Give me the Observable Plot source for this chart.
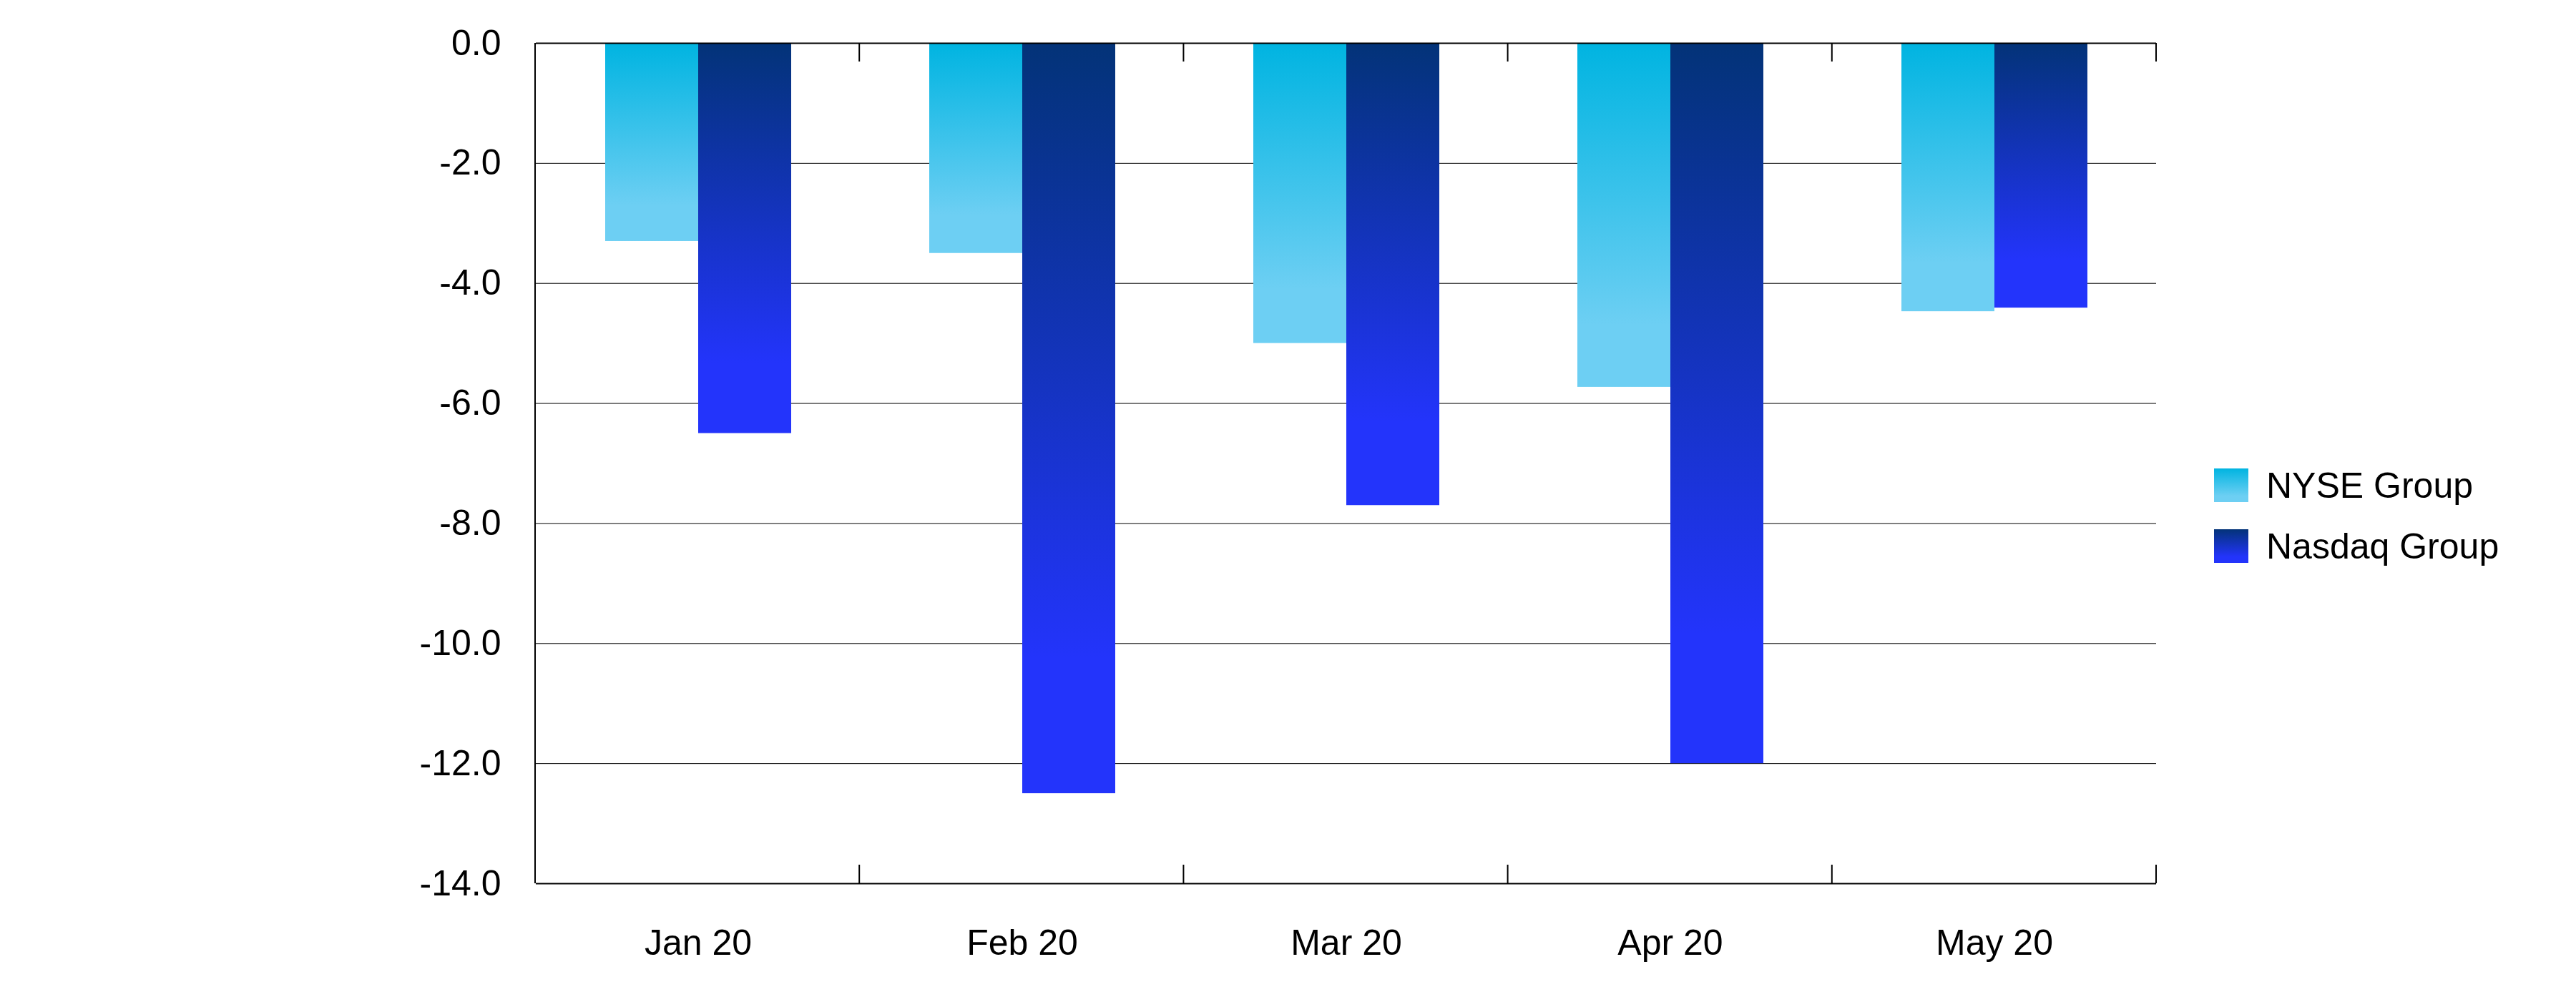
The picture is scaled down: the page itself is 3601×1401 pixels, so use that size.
<!DOCTYPE html>
<html>
<head>
<meta charset="utf-8">
<script src="https://cdn.jsdelivr.net/npm/d3@7"></script>
<script src="https://cdn.jsdelivr.net/npm/@observablehq/plot@0.6"></script>
<style>
  html, body { margin: 0; padding: 0; background: #fff; overflow: hidden; }
  #wrap { position: relative; width: 3601px; height: 1401px; }
  #legend { position: absolute; left: 3095px; top: 655px; font-family: 'Liberation Sans', Arial, sans-serif; font-size: 50px; color: #000; }
  .row { display: flex; align-items: center; height: 47px; margin-bottom: 38px; white-space: nowrap; }
  .sw { width: 48px; height: 47px; margin-right: 25px; flex: none; }
</style>
</head>
<body>
<div id="wrap"></div>
<script>
const months = ["Jan 20", "Feb 20", "Mar 20", "Apr 20", "May 20"];
const series = ["NYSE Group", "Nasdaq Group"];
const nyse = [-3.3, -3.5, -5.0, -5.73, -4.47];
const nasdaq = [-6.5, -12.5, -7.7, -12.0, -4.41];
const yTicks = [0, -2, -4, -6, -8, -10, -12, -14];
const gradients = {
  "NYSE Group": ["#00b4e1", "#6dcff3"],
  "Nasdaq Group": ["#033378", "#2334fb"]
};

const rows = months.flatMap((m, i) => [
  {month: m, series: series[0], value: nyse[i]},
  {month: m, series: series[1], value: nasdaq[i]}
]);

const gradId = s => s === series[0] ? "gradNyse" : "gradNasdaq";

const plot = Plot.plot({
  width: 3601,
  height: 1401,
  marginLeft: 748,
  marginRight: 587,
  marginTop: 60,
  marginBottom: 166,
  style: {fontFamily: "'Liberation Sans', Arial, sans-serif", fontSize: "50px", color: "#000", background: "#fff", overflow: "visible"},
  facet: {data: rows, x: "month"},
  fx: {domain: months, padding: 0, axis: "bottom", label: null, tickSize: 0, tickPadding: 64},
  x: {domain: series, paddingInner: 0, paddingOuter: 0.74, axis: null},
  y: {domain: [-14, 0], ticks: yTicks, tickFormat: d => d.toFixed(1), tickSize: 0, tickPadding: 49, label: null},
  marks: [
    Plot.ruleY(yTicks.filter(t => t !== 0 && t !== -14), {stroke: "#000", strokeWidth: 1}),
    Plot.barY(rows, {filter: d => d.series === series[0], x: "series", y: "value", fill: "url(#gradNyse)"}),
    Plot.barY(rows, {filter: d => d.series === series[1], x: "series", y: "value", fill: "url(#gradNasdaq)"}),
    Plot.ruleY([0, -14], {stroke: "#000", strokeWidth: 2})
  ]
});

const svg = d3.select(plot.tagName.toLowerCase() === "svg" ? plot : plot.querySelector("svg"));

// gradient definitions
const defs = svg.insert("defs", ":first-child");
for (const s of series) {
  const g = defs.append("linearGradient").attr("id", gradId(s))
    .attr("x1", 0).attr("y1", 0).attr("x2", 0).attr("y2", 1);
  g.append("stop").attr("offset", 0).attr("stop-color", gradients[s][0]);
  g.append("stop").attr("offset", 0.82).attr("stop-color", gradients[s][1]);
  g.append("stop").attr("offset", 1).attr("stop-color", gradients[s][1]);
}

// fonts for all text
svg.selectAll("text")
  .style("font-size", "50px")
  .style("font-family", "'Liberation Sans', Arial, sans-serif")
  .attr("fill", "#000");

// frame: left axis line and band boundary ticks, from Plot's scales
const fxd = plot.scale("fx");
const yd = plot.scale("y");
const fx = d3.scaleBand().domain(fxd.domain).range(fxd.range).padding(0);
const y = d3.scaleLinear().domain(yd.domain).range(yd.range);
const y0 = y(0), yb = y(-14);
const frame = svg.append("g").attr("stroke", "#000").attr("fill", "none");
frame.append("line").attr("x1", fx.range()[0]).attr("x2", fx.range()[0])
  .attr("y1", y0).attr("y2", yb).attr("stroke-width", 2);
const bounds = months.map(m => fx(m) + fx.bandwidth());
for (const bx of bounds) {
  frame.append("line").attr("x1", bx).attr("x2", bx).attr("y1", y0).attr("y2", y0 + 26).attr("stroke-width", 2);
  frame.append("line").attr("x1", bx).attr("x2", bx).attr("y1", yb).attr("y2", yb - 26).attr("stroke-width", 2);
}

const wrap = document.getElementById("wrap");
wrap.appendChild(plot);

// legend
const legend = document.createElement("div");
legend.id = "legend";
for (const s of series) {
  const row = document.createElement("div");
  row.className = "row";
  const sw = document.createElement("div");
  sw.className = "sw";
  sw.style.background = `linear-gradient(to bottom, ${gradients[s][0]} 0%, ${gradients[s][1]} 82%, ${gradients[s][1]} 100%)`;
  const label = document.createElement("span");
  label.textContent = s;
  row.appendChild(sw);
  row.appendChild(label);
  legend.appendChild(row);
}
wrap.appendChild(legend);
</script>
</body>
</html>
